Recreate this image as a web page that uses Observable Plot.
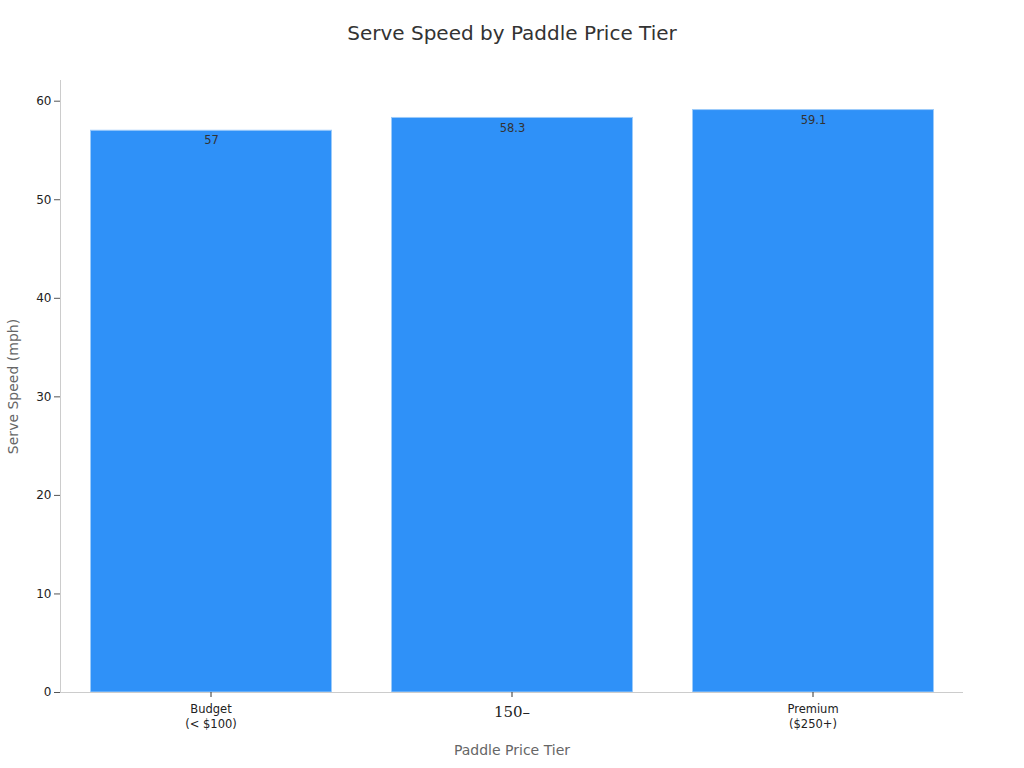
<!DOCTYPE html>
<html>
<head>
<meta charset="utf-8">
<script src="https://cdn.jsdelivr.net/npm/d3@7"></script>
<script src="https://cdn.jsdelivr.net/npm/@observablehq/plot@0.6"></script>
<style>
  html, body { margin: 0; padding: 0; background: #fff; }
  body { width: 1024px; height: 768px; overflow: hidden; font-family: "DejaVu Sans", sans-serif; }
  #title { height: 67px; line-height: 67px; text-align: center; font-size: 20px; color: #333; }
</style>
</head>
<body>
<div id="title">Serve Speed by Paddle Price Tier</div>
<div id="chart"></div>
<script>
const tiers = ["Budget", "Mid", "Premium"];
const tierLabels = ["Budget\n(< $100)", "150–", "Premium\n($250+)"];
const speeds = [57, 58.3, 59.1];
const yTicks = [0, 10, 20, 30, 40, 50, 60];

const data = tiers.map((t, i) => ({tier: t, label: tierLabels[i], speed: speeds[i]}));
const labelOf = Object.fromEntries(tiers.map((t, i) => [t, tierLabels[i]]));

const chart = Plot.plot({
  width: 1024,
  height: 701,
  marginTop: 13,
  marginBottom: 76,
  marginLeft: 60,
  marginRight: 61,
  style: {fontFamily: "DejaVu Sans, sans-serif", background: "#fff"},
  x: {domain: tiers, paddingInner: 0.2, paddingOuter: 0.1, label: null},
  y: {domain: [0, 62.1], label: null},
  marks: [
    Plot.barY(data, {x: "tier", y: "speed", fill: "#2f91f8", stroke: "#9ccbfa", strokeWidth: 1, dx: 0.5}),
    Plot.text(data, {x: "tier", y: "speed", text: d => String(d.speed), dy: 10, dx: 0.5, fill: "#333", fontSize: 11.5}),
    Plot.frame({anchor: "left", stroke: "#ccc"}),
    Plot.ruleY([0], {stroke: "#ccc"}),
    Plot.axisY({ticks: yTicks, tickSize: 6, tickPadding: 3, fontSize: 12, color: "#222", label: null, stroke: "#555"}),
    Plot.axisX({ticks: ["Budget", "Premium"], tickFormat: d => labelOf[d], tickSize: 5, tickPadding: 5, fontSize: 11.5, lineHeight: 1.3, color: "#222", stroke: "#333", label: null}),
    Plot.axisX({ticks: ["Mid"], tickFormat: d => labelOf[d], tickSize: 5, tickPadding: 9, fontSize: 15, fontFamily: "DejaVu Serif, serif", color: "#222", stroke: "#333", label: null}),
    Plot.text(["Serve Speed (mph)"], {frameAnchor: "left", textAnchor: "middle", dx: -47, rotate: -90, fontSize: 14, fill: "#666"}),
    Plot.text(["Paddle Price Tier"], {frameAnchor: "bottom", dy: 62, fontSize: 14, fill: "#666"})
  ]
});
document.getElementById("chart").appendChild(chart);
</script>
</body>
</html>
